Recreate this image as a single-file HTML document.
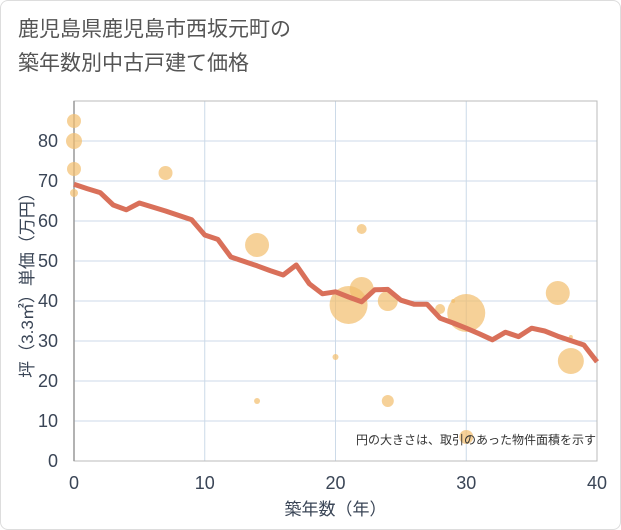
<!DOCTYPE html>
<html><head><meta charset="utf-8"><style>
body{margin:0;background:#fff;}
#wrap{position:relative;width:619px;height:528px;border:1px solid #ddd;border-radius:8px;overflow:hidden;font-family:"Liberation Sans","Noto Sans CJK JP",sans-serif;}
#title{position:absolute;left:17px;top:12px;font-size:21px;line-height:34px;color:#555;}
svg{position:absolute;left:0;top:0}
</style></head><body>
<div id="wrap">
<div id="title">鹿児島県鹿児島市西坂元町の<br>築年数別中古戸建て価格</div>
<svg id="c" width="621" height="530"></svg>
</div>
<script>
const lineYears=[0,1,2,3,4,5,6,7,8,9,10,11,12,13,14,15,16,17,18,19,20,21,22,23,24,25,26,27,28,29,30,31,32,33,34,35,36,37,38,39,40];
const lineValues=[69.2,68.1,67.1,64,62.8,64.5,63.5,62.5,61.4,60.3,56.5,55.4,51,49.9,48.8,47.6,46.5,49,44.3,41.8,42.3,41,39.8,42.8,42.9,40.2,39.2,39.2,35.7,34.5,33.2,31.8,30.3,32.2,31.1,33.2,32.5,31.2,30.1,29,24.8];
const bubbleYears=[0,0,0,0,7,14,14,20,21,22,22,24,24,28,29,30,30,37,38,38];
const bubbleValues=[85,80,73,67,72,54,15,26,39,58,43,40,15,38,40,37,6,42,25,31];
const bubbleSizes=[7,8,7,4,7,12,3,3,19,5,12,10,6,5,2,19,7,12,13,2];
const xTicks=[0,10,20,30,40];
const yTicks=[0,10,20,30,40,50,60,70,80];
const NS="http://www.w3.org/2000/svg";
const svg=document.getElementById('c');
const X0=73,X1=596,Y0=460,YT=100;
const sx=v=>X0+(X1-X0)*v/40;
const sy=v=>Y0-v*4;
function mk(t,a,p){const e=document.createElementNS(NS,t);for(const k in a)e.setAttribute(k,a[k]);(p||svg).appendChild(e);return e;}
const grid=mk('g',{});


yTicks.forEach(v=>{if(v>0)mk('line',{x1:X0,x2:X1,y1:sy(v),y2:sy(v),stroke:'#ccdae8','stroke-width':1},grid);
const t=mk('text',{x:57,y:sy(v)+6,'text-anchor':'end','font-size':18,fill:'#3a4556'});t.textContent=v;

});
xTicks.forEach(v=>{if(v>0&&v<40)mk('line',{x1:sx(v),x2:sx(v),y1:YT,y2:Y0,stroke:'#ccdae8','stroke-width':1},grid);
const t=mk('text',{x:sx(v),y:488,'text-anchor':'middle','font-size':18,fill:'#3a4556'});t.textContent=v;

});
mk('rect',{x:X0,y:YT,width:X1-X0,height:Y0-YT,fill:'none',stroke:'#bbb','stroke-width':1});
mk('line',{x1:X0,x2:X0,y1:YT,y2:Y0,stroke:'#999','stroke-width':1.5});
const bg=mk('g',{});


bubbleYears.forEach((y,i)=>{const c=mk('circle',{cx:sx(y),cy:sy(bubbleValues[i]),r:bubbleSizes[i],fill:'rgba(242,189,108,0.7)'},bg);

});
const p=mk('polyline',{points:lineYears.map((y,i)=>sx(y)+','+sy(lineValues[i])).join(' '),fill:'none',stroke:'#d9705a','stroke-width':5,'stroke-linejoin':'round'});


const n=mk('text',{x:595,y:443,'text-anchor':'end','font-size':12,fill:'#333'});n.textContent='円の大きさは、取引のあった物件面積を示す';


const xt=mk('text',{x:sx(20),y:514,'text-anchor':'middle','font-size':17,fill:'#3a4556'});xt.textContent='築年数（年）';


const yt=mk('text',{x:0,y:0,'text-anchor':'middle','font-size':17,fill:'#3a4556',transform:'translate(32,280) rotate(-90)'});yt.textContent='坪（3.3㎡）単価（万円）';


</script>
</body></html>
